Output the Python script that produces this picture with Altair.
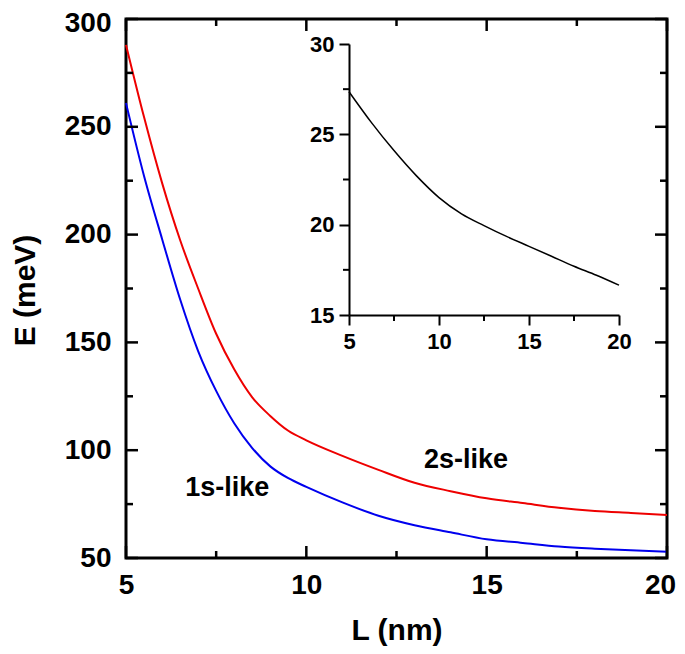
import altair as alt
import pandas as pd

# ---- data ----
L_main = [5, 5.5, 6, 6.5, 7, 7.5, 8, 8.5, 9, 9.5, 10, 11, 12, 13, 14, 15, 16, 17, 18, 19, 20]
E_1s = [261, 227.2, 198, 170, 146, 127.5, 112.5, 101, 92.5, 87.0, 83.0, 75.8, 69.6,
        65.2, 61.9, 58.7, 57.0, 55.3, 54.3, 53.6, 52.9]
E_2s = [288, 254.5, 224, 197.5, 175, 154, 137.5, 124.5, 115.9, 109.0, 104.6, 97.4, 90.9,
        84.9, 81.0, 77.7, 75.5, 73.3, 71.8, 70.9, 70.0]

L_inset = [5, 6.25, 7.5, 8.75, 10, 11.25, 12.5, 13.75, 15, 16.25, 17.5, 18.75, 20]
E_inset = [27.36, 25.65, 24.1, 22.7, 21.5, 20.6, 19.95, 19.35, 18.8, 18.25, 17.7, 17.2, 16.65]

x_major = [5, 10, 15, 20]
x_minor = [7.5, 12.5, 17.5]
y_major = [50, 100, 150, 200, 250, 300]
y_minor = [75, 125, 175, 225, 275]
inset_x_major = [5, 10, 15, 20]
inset_x_minor = [7.5, 12.5, 17.5]
inset_y_major = [15, 20, 25, 30]
inset_y_minor = [17.5, 22.5, 27.5]

ann_text = ["1s-like", "2s-like"]
ann_L = [7.81, 14.43]
ann_E = [82.5, 95.5]

# ---- layout ----
W, H = 541, 539
FONT = "Liberation Sans"
MAJ, MIN = 12, 7
IX0, IX1 = 223, 493   # inset x range (px inside plot)
IY0, IY1 = 296, 25    # inset y range (px inside plot)

xs = alt.Scale(domain=[5, 20], nice=False, zero=False)
ys = alt.Scale(domain=[50, 300], nice=False, zero=False)
xi = alt.Scale(domain=[5, 20], range=[IX0, IX1], nice=False, zero=False)
yi = alt.Scale(domain=[15, 30], range=[IY0, IY1], nice=False, zero=False)

x_axis = alt.Axis(values=x_major, ticks=False, domain=False, grid=False,
                  labelFont=FONT, labelFontSize=28, labelFontWeight="bold",
                  labelColor="black", labelPadding=13, labelFlush=False,
                  labelOverlap=False,
                  labelOffset={"condition": {"test": "datum.value == 20", "value": -7},
                               "value": 0},
                  title="L (nm)", titleFont=FONT,
                  titleFontSize=30, titleFontWeight="bold", titleColor="black",
                  titleX=W / 2, titleY=81, titleAlign="center",
                  titleBaseline="alphabetic")
y_axis = alt.Axis(values=y_major, ticks=False, domain=False, grid=False,
                  labelFont=FONT, labelFontSize=28, labelFontWeight="bold",
                  labelColor="black", labelPadding=15, labelFlush=False,
                  labelOverlap=False,
                  labelOffset={"condition": {"test": "datum.value == 300", "value": 4},
                               "value": 0},
                  title="E (meV)", titleFont=FONT,
                  titleFontSize=30, titleFontWeight="bold", titleColor="black",
                  titleAngle=270, titleX=-92, titleY=271, titleAlign="center",
                  titleBaseline="alphabetic")

xi_axis = alt.Axis(orient="bottom", offset=-(H - IY0), values=inset_x_major,
                   tickSize=10, tickWidth=2, tickColor="black", domainWidth=2,
                   domainColor="black", grid=False, labelFont=FONT,
                   labelFontSize=22, labelFontWeight="bold", labelColor="black",
                   labelPadding=6, labelFlush=False, labelOverlap=False, title=None)
yi_axis = alt.Axis(orient="left", offset=-IX0, values=inset_y_major,
                   tickSize=10, tickWidth=2, tickColor="black", domainWidth=2,
                   domainColor="black", grid=False, labelFont=FONT,
                   labelFontSize=22, labelFontWeight="bold", labelColor="black",
                   labelPadding=5, labelFlush=False, labelOverlap=False, title=None)

df_1s = pd.DataFrame({"L": L_main, "E": E_1s})
df_2s = pd.DataFrame({"L": L_main, "E": E_2s})

line_1s = alt.Chart(df_1s).mark_line(color="#0000ee", strokeWidth=2,
                                     interpolate="monotone").encode(
    x=alt.X("L:Q", scale=xs, axis=x_axis),
    y=alt.Y("E:Q", scale=ys, axis=y_axis),
)
line_2s = alt.Chart(df_2s).mark_line(color="#ee0000", strokeWidth=2,
                                     interpolate="monotone").encode(
    x=alt.X("L:Q", scale=xs, axis=x_axis),
    y=alt.Y("E:Q", scale=ys, axis=y_axis),
)


def yticks(vals, x0, x1, scale, axis, width):
    return alt.Chart(pd.DataFrame({"v": vals})).mark_rule(
        color="black", strokeWidth=width).encode(
        y=alt.Y("v:Q", scale=scale, axis=axis),
        x=alt.value(x0), x2=alt.value(x1))


def xticks(vals, y0, y1, scale, axis, width):
    return alt.Chart(pd.DataFrame({"v": vals})).mark_rule(
        color="black", strokeWidth=width).encode(
        x=alt.X("v:Q", scale=scale, axis=axis),
        y=alt.value(y0), y2=alt.value(y1))


main_ticks = [
    yticks(y_major, 0, MAJ, ys, y_axis, 2.5), yticks(y_minor, 0, MIN, ys, y_axis, 2.5),
    yticks(y_major, W, W - MAJ, ys, y_axis, 2.5), yticks(y_minor, W, W - MIN, ys, y_axis, 2.5),
    xticks(x_major, H, H - MAJ, xs, x_axis, 2.5), xticks(x_minor, H, H - MIN, xs, x_axis, 2.5),
    xticks(x_major, 0, MAJ, xs, x_axis, 2.5), xticks(x_minor, 0, MIN, xs, x_axis, 2.5),
]

ann = alt.Chart(pd.DataFrame({"t": ann_text, "L": ann_L, "E": ann_E})).mark_text(
    font=FONT, fontSize=27, fontWeight="bold", color="black",
    align="center", baseline="middle").encode(
    x=alt.X("L:Q", scale=xs, axis=x_axis),
    y=alt.Y("E:Q", scale=ys, axis=y_axis),
    text="t:N")

main = alt.layer(line_1s, line_2s, *main_ticks, ann)

inset_line = alt.Chart(pd.DataFrame({"L": L_inset, "E": E_inset})).mark_line(
    color="black", strokeWidth=1.5, interpolate="monotone").encode(
    x=alt.X("L:Q", scale=xi, axis=xi_axis),
    y=alt.Y("E:Q", scale=yi, axis=yi_axis),
)
inset = alt.layer(
    inset_line,
    yticks(inset_y_minor, IX0, IX0 - 6, yi, yi_axis, 2),
    xticks(inset_x_minor, IY0, IY0 + 6, xi, xi_axis, 2),
)

chart = alt.layer(main, inset).resolve_scale(
    x="independent", y="independent"
).properties(
    width=W, height=H,
    autosize=alt.AutoSizeParams(type="none"),
    padding={"left": 118, "top": 11, "right": 9, "bottom": 88},
    background="white",
).configure_view(stroke="black", strokeWidth=3)

chart.save("out.html", embed_options={"renderer": "svg", "actions": False})
